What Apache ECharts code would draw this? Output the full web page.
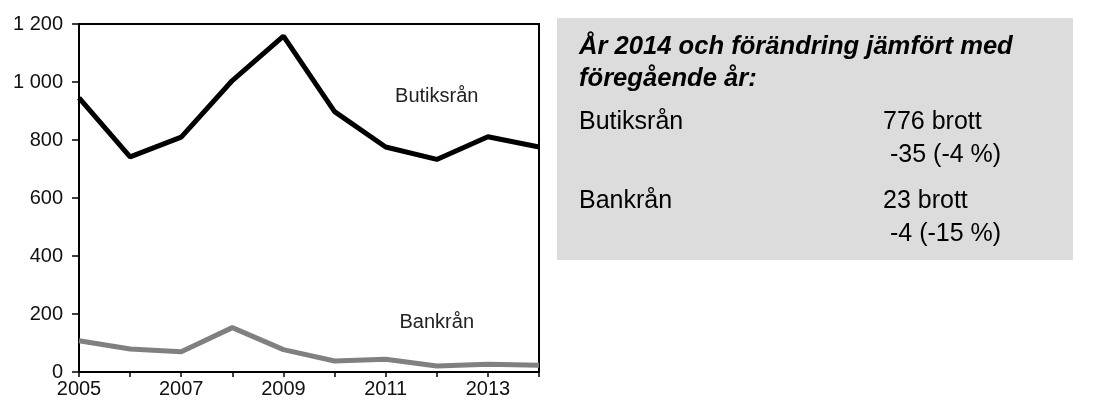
<!DOCTYPE html>
<html>
<head>
<meta charset="utf-8">
<script src="https://cdn.jsdelivr.net/npm/echarts@6/dist/echarts.min.js"></script>
<style>
  html, body { margin: 0; padding: 0; background: #fff; }
  #chart { width: 1094px; height: 405px; }
</style>
</head>
<body>
<div id="chart"></div>
<script>
// data
var years = ['2005', '2006', '2007', '2008', '2009', '2010', '2011', '2012', '2013', '2014']
var butiksran = [945, 742, 810, 1005, 1158, 898, 776, 733, 811, 776]
var bankran = [108, 79, 70, 153, 77, 38, 44, 21, 27, 23]
var yTicks = [0, 200, 400, 600, 800, 1000, 1200]

var font = 'Liberation Sans, Arial, sans-serif'

var chart = echarts.init(document.getElementById('chart'))

function thousands(v) {
  return String(v).replace(/\B(?=(\d{3})+(?!\d))/g, ' ')
}

// series name written inside the plot
function nameLabel(text, value) {
  return {
    symbol: 'circle',
    symbolSize: 0,
    data: [{ coord: ['2012', value] }],
    label: { show: true, position: 'inside', formatter: text, color: '#222', fontSize: 20, fontFamily: font }
  }
}

chart.setOption({
  animation: false,
  grid: {
    left: 79,
    right: 555,
    top: 24,
    bottom: 33,
    show: true,
    borderColor: '#000',
    borderWidth: 2,
    containLabel: false
  },
  xAxis: {
    type: 'category',
    boundaryGap: false,
    data: years,
    axisLine: { lineStyle: { color: '#000', width: 2 } },
    axisTick: { interval: 0, length: 5, lineStyle: { color: '#000', width: 1.5 } },
    axisLabel: { interval: 1, margin: 7, color: '#111', fontSize: 20, fontFamily: font },
    splitLine: { show: false }
  },
  yAxis: {
    type: 'value',
    min: yTicks[0],
    max: yTicks[yTicks.length - 1],
    interval: 200,
    axisLine: { show: true, lineStyle: { color: '#000', width: 2 } },
    axisTick: { show: true, length: 7, lineStyle: { color: '#000', width: 1.5 } },
    axisLabel: { margin: 16, color: '#111', fontSize: 20, fontFamily: font, formatter: thousands },
    splitLine: { show: false }
  },
  series: [
    {
      name: 'Butiksrån',
      type: 'line',
      data: butiksran,
      symbol: 'none',
      lineStyle: { color: '#000', width: 5 },
      markPoint: nameLabel('Butiksrån', 950)
    },
    {
      name: 'Bankrån',
      type: 'line',
      data: bankran,
      symbol: 'none',
      lineStyle: { color: '#808080', width: 5 },
      markPoint: nameLabel('Bankrån', 172)
    }
  ],
  graphic: [
    { type: 'rect', shape: { x: 557, y: 18, width: 516, height: 242 }, style: { fill: '#dcdcdc' } },
    { type: 'text', x: 579, y: 47, style: { text: 'År 2014 och förändring jämfört med', font: 'italic bold 25.6px ' + font, fill: '#000', verticalAlign: 'middle' } },
    { type: 'text', x: 579, y: 79, style: { text: 'föregående år:', font: 'italic bold 25.6px ' + font, fill: '#000', verticalAlign: 'middle' } },
    { type: 'text', x: 579, y: 122, style: { text: 'Butiksrån', font: '25px ' + font, fill: '#000', verticalAlign: 'middle' } },
    { type: 'text', x: 883, y: 122, style: { text: '776 brott', font: '25px ' + font, fill: '#000', verticalAlign: 'middle' } },
    { type: 'text', x: 890, y: 155, style: { text: '-35 (-4 %)', font: '25px ' + font, fill: '#000', verticalAlign: 'middle' } },
    { type: 'text', x: 579, y: 201, style: { text: 'Bankrån', font: '25px ' + font, fill: '#000', verticalAlign: 'middle' } },
    { type: 'text', x: 883, y: 201, style: { text: '23 brott', font: '25px ' + font, fill: '#000', verticalAlign: 'middle' } },
    { type: 'text', x: 890, y: 234, style: { text: '-4 (-15 %)', font: '25px ' + font, fill: '#000', verticalAlign: 'middle' } }
  ]
})
</script>
</body>
</html>
